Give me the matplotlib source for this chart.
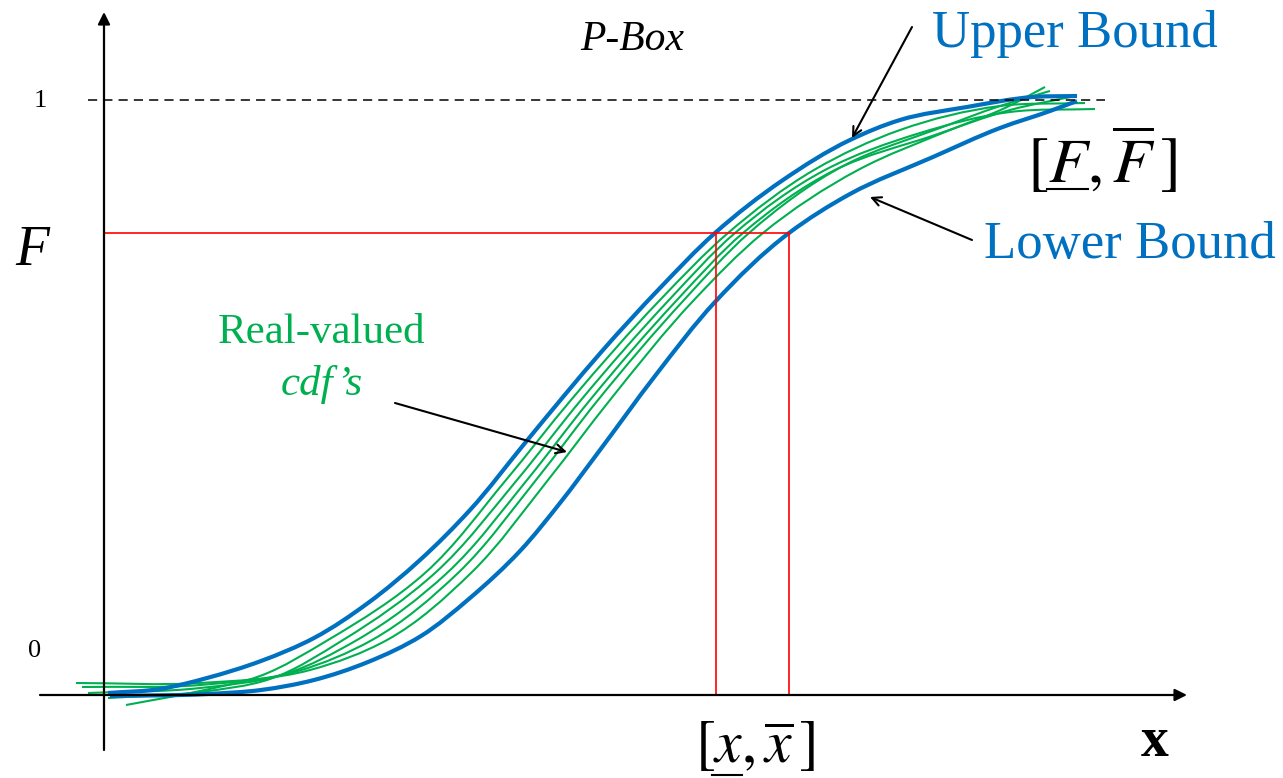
import matplotlib
matplotlib.use("Agg")
import matplotlib.pyplot as plt
import numpy as np
from matplotlib.path import Path
from matplotlib.patches import PathPatch

plt.rcParams['mathtext.fontset'] = 'stix'

# ---- data (diagram coordinates, pixel-like, y downward) ----
upper_x = [108, 160, 207, 261, 314, 368, 420, 470, 525, 563, 603, 660, 715, 783, 850, 900, 967, 1033, 1077]
upper_y = [693, 689, 678, 661, 638, 603, 560, 510, 443, 397, 350, 288, 233, 180, 140, 120, 107, 97, 96]

lower_x = [110, 207, 261, 314, 368, 421, 470, 520, 560, 600, 655, 715, 789, 850, 933, 1000, 1050, 1077]
lower_y = [696, 694, 690, 680, 662, 636, 598, 551, 503, 450, 376, 302, 233, 194, 157, 128, 111, 101]

green_x = [
    [126, 200, 260, 328, 425, 506, 571, 660, 728, 814, 900, 1000, 1085],
    [108, 200, 270, 343, 435, 517, 581, 669, 735, 825, 920, 1010, 1095],
    [88, 200, 285, 357, 447, 527, 590, 677, 743, 835, 935, 1010, 1075],
    [82, 200, 298, 372, 458, 536, 598, 684, 749, 845, 940, 1000, 1050],
    [76, 200, 310, 387, 471, 548, 610, 694, 763, 858, 950, 1005, 1045],
]
green_y = [
    [705, 691, 676, 640, 573, 480, 400, 300, 233, 170, 130, 106, 103],
    [698, 692, 679, 640, 573, 480, 400, 300, 233, 170, 133, 112, 109],
    [693, 688, 674, 640, 573, 480, 400, 300, 233, 170, 135, 110, 96],
    [687, 685, 671, 640, 573, 480, 400, 300, 233, 165, 128, 106, 91],
    [683, 683, 670, 640, 573, 480, 400, 300, 233, 170, 130, 108, 87],
]

x_lo, x_hi = 716, 789
F_level = 233
one_level = 100
axis_y = 695
axis_x = 104

BLUE = '#0070C0'
GREEN = '#00B050'
RED = '#FF0000'


def smooth_path(xs, ys):
    """Smooth curve through the given points (cubic Bezier segments with
    chord-length-weighted tangents)."""
    pts = np.column_stack([xs, ys]).astype(float)
    n = len(pts)
    tangents = []
    for i in range(n):
        if i == 0:
            t = pts[1] - pts[0]
        elif i == n - 1:
            t = pts[-1] - pts[-2]
        else:
            d0 = np.linalg.norm(pts[i] - pts[i - 1])
            d1 = np.linalg.norm(pts[i + 1] - pts[i])
            u0 = (pts[i] - pts[i - 1]) / d0
            u1 = (pts[i + 1] - pts[i]) / d1
            t = (u0 * d1 + u1 * d0) / (d0 + d1)
            t = t / np.linalg.norm(t)
        tangents.append(t / np.linalg.norm(t))
    verts = [pts[0]]
    codes = [Path.MOVETO]
    for i in range(n - 1):
        d = np.linalg.norm(pts[i + 1] - pts[i]) / 3.0
        verts += [pts[i] + tangents[i] * d, pts[i + 1] - tangents[i + 1] * d,
                  pts[i + 1]]
        codes += [Path.CURVE4] * 3
    return Path(verts, codes)


fig = plt.figure(figsize=(12.83, 7.78), dpi=100)
ax = fig.add_axes([0, 0, 1, 1])
ax.set_xlim(0, 1283)
ax.set_ylim(778, 0)
ax.axis('off')

# axes
ax.annotate('', xy=(axis_x, 12), xytext=(axis_x, 750),
            arrowprops=dict(arrowstyle='-|>', color='black', lw=1.6,
                            mutation_scale=18, shrinkA=0, shrinkB=0))
ax.annotate('', xy=(1187, axis_y), xytext=(40, axis_y),
            arrowprops=dict(arrowstyle='-|>', color='black', lw=1.6,
                            mutation_scale=18, shrinkA=0, shrinkB=0))

# dashed level 1
ax.plot([88, 1105], [one_level, one_level], color='black', lw=1.1,
        dashes=(6, 4))

# red lines
ax.plot([axis_x, x_hi], [F_level, F_level], color=RED, lw=1.2)
ax.plot([x_lo, x_lo], [F_level, axis_y], color=RED, lw=1.2)
ax.plot([x_hi, x_hi], [F_level, axis_y], color=RED, lw=1.2)

# green cdfs
for gx, gy in zip(green_x, green_y):
    ax.add_patch(PathPatch(smooth_path(gx, gy), fill=False, edgecolor=GREEN,
                           lw=1.5, capstyle='butt'))

# bounds
for bx, by in [(upper_x, upper_y), (lower_x, lower_y)]:
    ax.add_patch(PathPatch(smooth_path(bx, by), fill=False, edgecolor=BLUE,
                           lw=3.0, capstyle='butt'))

serif = ['Liberation Serif', 'DejaVu Serif']

ax.text(40, 101, '1', fontsize=19, family=serif, ha='center', va='center')
ax.text(35, 651, '0', fontsize=19, family=serif, ha='center', va='center')
ax.text(32, 251, 'F', fontsize=40, family=serif, style='italic',
        ha='center', va='center')
ax.text(632, 40, 'P-Box', fontsize=30, family=serif, style='italic',
        ha='center', va='center')
ax.text(1075, 34, 'Upper Bound', fontsize=38, family=serif, color=BLUE,
        ha='center', va='center')
ax.text(1130, 245, 'Lower Bound', fontsize=38, family=serif, color=BLUE,
        ha='center', va='center')
ax.text(322, 333, 'Real-valued', fontsize=31, family=serif, color=GREEN,
        ha='center', va='center')
ax.text(322, 384, "cdf\u2019s", fontsize=31, family=serif, color=GREEN,
        style='italic', ha='center', va='center')

# interval labels with manual underlines
ax.text(1102, 160, r'$[F,\overline{F}\,]$', fontsize=46,
        ha='center', va='center')
ax.plot([1047, 1088], [189, 189], color='black', lw=1.5)
ax.text(755, 746, r'$[x,\overline{x}\,]$', fontsize=43,
        ha='center', va='center')
ax.plot([712, 742], [775, 775], color='black', lw=1.5)

ax.text(1155, 742, 'x', fontsize=40, family=serif, weight='bold',
        ha='center', va='center')

# annotation arrows
arrow_kw = dict(arrowstyle='->', color='black', lw=1.5, mutation_scale=16,
                shrinkA=0, shrinkB=0)
ax.annotate('', xy=(852, 138), xytext=(912, 27), arrowprops=arrow_kw)
ax.annotate('', xy=(870, 197), xytext=(972, 240), arrowprops=arrow_kw)
ax.annotate('', xy=(567, 452), xytext=(395, 403), arrowprops=arrow_kw)

fig.savefig('out.png', dpi=100)
